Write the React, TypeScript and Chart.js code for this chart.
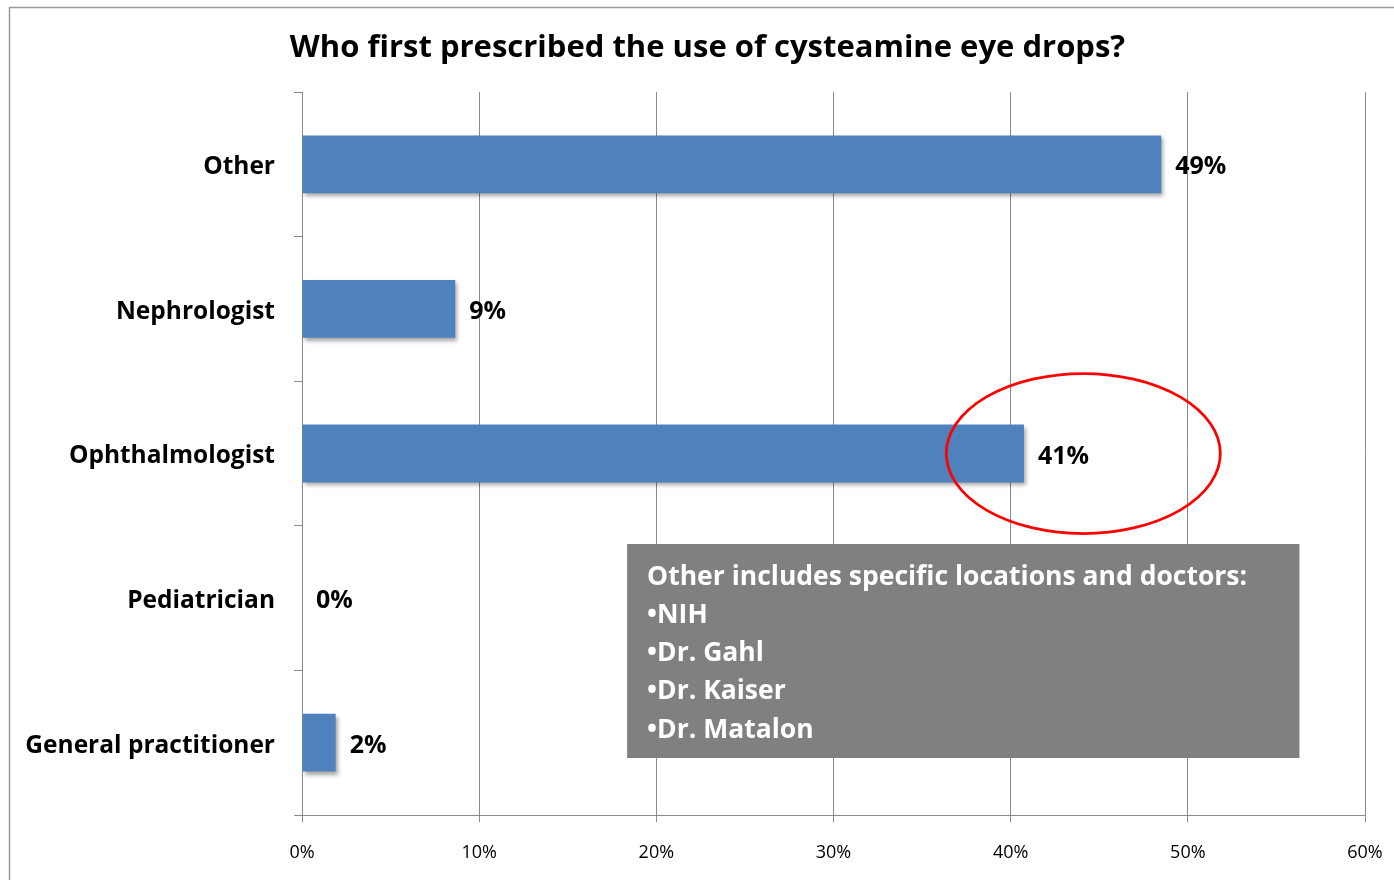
import React, { useEffect, useRef } from "react";
import { Chart, registerables } from "chart.js";

Chart.register(...registerables);

const categories = ["Other", "Nephrologist", "Ophthalmologist", "Pediatrician", "General practitioner"];
const values = [48.5, 8.65, 40.75, 0, 1.9];
const valueLabels = ["49%", "9%", "41%", "0%", "2%"];
const titleText = "Who first prescribed the use of cysteamine eye drops?";
const noteLines = [
  "Other includes specific locations and doctors:",
  "\u2022NIH",
  "\u2022Dr. Gahl",
  "\u2022Dr. Kaiser",
  "\u2022Dr. Matalon",
];

const FONT = "'Open Sans', Lato, sans-serif";

export default function App() {
  const ref = useRef<HTMLCanvasElement | null>(null);

  useEffect(() => {
    document.body.style.margin = "0";
    const canvas = ref.current;
    if (!canvas) return;

    const decorPlugin = {
      id: "decor",
      beforeDraw(chart: any) {
        const ctx = chart.ctx;
        ctx.save();
        ctx.fillStyle = "#ffffff";
        ctx.fillRect(0, 0, chart.width, chart.height);
        ctx.strokeStyle = "#9a9a9a";
        ctx.lineWidth = 1.5;
        ctx.strokeRect(9.5, 7.5, chart.width + 20, chart.height + 20);
        ctx.fillStyle = "#000000";
        ctx.font = `bold 31px ${FONT}`;
        ctx.textAlign = "center";
        ctx.textBaseline = "middle";
        ctx.fillText(titleText, 707.5, 48.5);
        ctx.restore();
      },
      beforeDatasetsDraw(chart: any) {
        const ctx = chart.ctx;
        ctx.save();
        ctx.shadowColor = "rgba(0,0,0,0.35)";
        ctx.shadowBlur = 4;
        ctx.shadowOffsetX = 2;
        ctx.shadowOffsetY = 3;
      },
      afterDatasetsDraw(chart: any) {
        const ctx = chart.ctx;
        ctx.restore();
        const meta = chart.getDatasetMeta(0);
        ctx.save();
        ctx.fillStyle = "#000000";
        ctx.font = `bold 25px ${FONT}`;
        ctx.textAlign = "left";
        ctx.textBaseline = "middle";
        meta.data.forEach((bar: any, i: number) => {
          ctx.fillText(valueLabels[i], bar.x + 14, bar.y + 3);
        });
        ctx.restore();
      },
      afterDraw(chart: any) {
        const ctx = chart.ctx;
        const xs = chart.scales.x;
        const ys = chart.scales.y;
        const boxLeft = xs.getPixelForValue(18.35);
        const boxRight = xs.getPixelForValue(56.3);
        const boxTop = 544;
        const boxBottom = 758;
        ctx.save();
        ctx.fillStyle = "#808080";
        ctx.fillRect(boxLeft, boxTop, boxRight - boxLeft, boxBottom - boxTop);
        ctx.fillStyle = "#ffffff";
        ctx.font = `bold 26.5px ${FONT}`;
        ctx.textAlign = "left";
        ctx.textBaseline = "middle";
        noteLines.forEach((line, i) => {
          ctx.fillText(line, boxLeft + 20, 577 + i * 38.3);
        });
        const cx = xs.getPixelForValue(44.1);
        const cy = ys.getPixelForValue(2);
        ctx.beginPath();
        ctx.ellipse(cx, cy, 137, 80, 0, 0, Math.PI * 2);
        ctx.strokeStyle = "#ff0000";
        ctx.lineWidth = 2.75;
        ctx.stroke();
        ctx.restore();
      },
    };

    const chart = new Chart(canvas, {
      type: "bar",
      data: {
        labels: categories,
        datasets: [
          {
            data: values,
            backgroundColor: "#4F81BD",
            borderWidth: 0,
            categoryPercentage: 1,
            barPercentage: 0.4,
          },
        ],
      },
      options: {
        indexAxis: "y",
        animation: false,
        responsive: true,
        maintainAspectRatio: false,
        layout: { padding: { left: 0, right: 29, top: 92, bottom: 0 } },
        plugins: {
          legend: { display: false },
          tooltip: { enabled: false },
          title: { display: false },
        },
        scales: {
          x: {
            min: 0,
            max: 60,
            afterFit(scale: any) {
              scale.height = 65;
              scale.paddingRight = 0;
              scale.paddingLeft = 0;
            },
            ticks: {
              stepSize: 10,
              color: "#000000",
              font: { family: FONT, size: 18 },
              padding: 20,
              callback: (v: any) => `${v}%`,
            },
            grid: { color: "#8a8a8a", lineWidth: 1, tickLength: 7, drawTicks: true },
            border: { color: "#8a8a8a", width: 1 },
          },
          y: {
            afterFit(scale: any) {
              scale.width = 302;
              scale.paddingTop = 0;
              scale.paddingBottom = 0;
            },
            ticks: {
              color: "#000000",
              font: { family: FONT, size: 24.5, weight: "bold" },
              padding: 19,
              labelOffset: 3,
            },
            grid: { offset: true, drawOnChartArea: false, drawTicks: true, tickLength: 8, color: "#8a8a8a" },
            border: { color: "#8a8a8a", width: 1 },
          },
        },
      },
      plugins: [decorPlugin],
    });

    return () => chart.destroy();
  }, []);

  return (
    <div style={{ position: "absolute", left: 0, top: 0, width: 1394, height: 880 }}>
      <canvas ref={ref} />
    </div>
  );
}
